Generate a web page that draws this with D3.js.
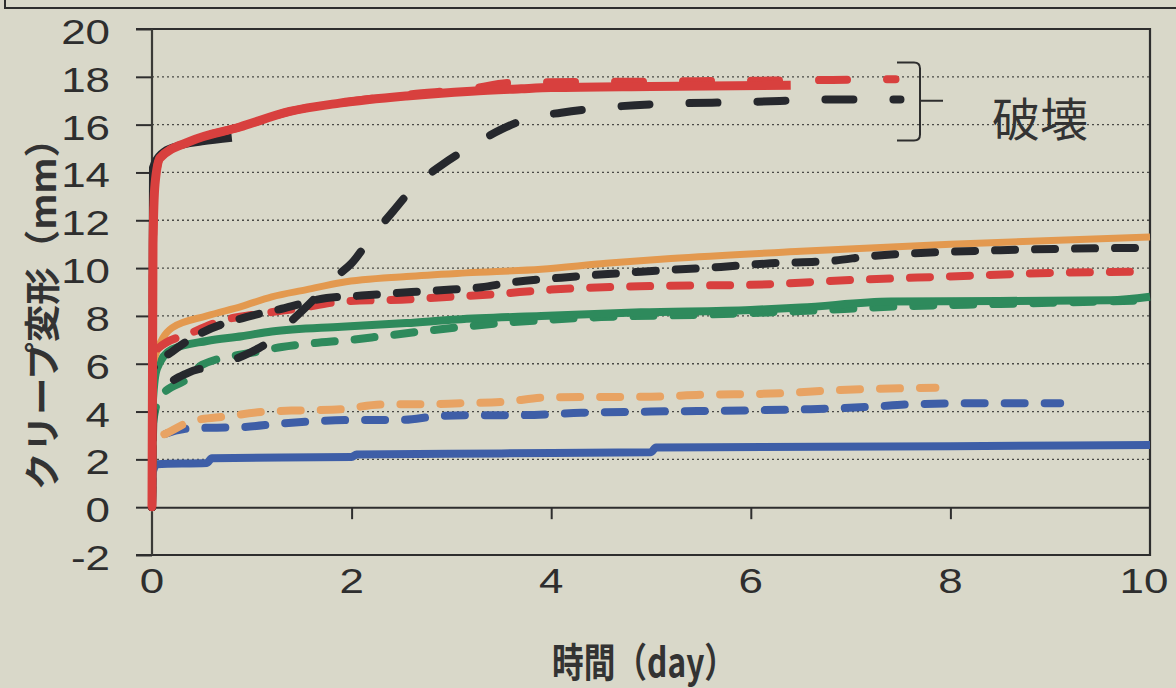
<!DOCTYPE html>
<html><head><meta charset="utf-8">
<script src="https://cdn.jsdelivr.net/npm/d3@7"></script>
<style>
html,body{margin:0;padding:0;background:#d9d8c9;}
svg{display:block;}
</style></head>
<body><svg id="c" width="1176" height="688"></svg>
<script>
// ---- data (time in days, creep deformation in mm) ----
const xTicks = [0, 2, 4, 6, 8, 10];
const yTicks = [-2, 0, 2, 4, 6, 8, 10, 12, 14, 16, 18, 20];
const xTitle = "時間（day）";
const yTitle = "クリープ変形（mm）";
const noteText = "破壊";

const blueSolid = [[0,0],[0.01,1.5],[0.05,1.8],[0.55,1.85],[0.6,2.05],[2.0,2.1],[2.05,2.2],[3.5,2.25],[5.0,2.3],[5.05,2.5],[8,2.55],[10,2.6]];
const blueDashed = [[0,0],[0.01,2.6],[0.1,3.0],[0.4,3.3],[0.9,3.35],[1.3,3.5],[1.65,3.6],[2.1,3.65],[2.5,3.65],[2.85,3.8],[3.2,3.85],[3.7,3.85],[4.3,3.95],[5.0,4.0],[6.0,4.05],[6.6,4.1],[7.2,4.2],[7.6,4.3],[8.3,4.35],[9.1,4.35]];
const orangeDashed = [[0,0],[0.01,2.8],[0.15,3.1],[0.4,3.6],[0.75,3.8],[1.15,4.0],[1.5,4.05],[1.9,4.1],[2.3,4.3],[2.7,4.3],[3.1,4.35],[3.5,4.4],[4.0,4.6],[5.0,4.62],[5.5,4.7],[6.2,4.75],[6.9,4.9],[7.85,5.0]];
const greenDashed = [[0,0],[0.01,3.5],[0.08,4.6],[0.38,5.45],[0.5,5.95],[1.05,6.5],[1.3,6.7],[1.6,6.85],[2.0,7.0],[2.3,7.15],[2.8,7.4],[3.5,7.7],[4.5,7.95],[5.5,8.05],[6.5,8.2],[7.5,8.4],[8.5,8.5],[9.0,8.55],[10,8.65]];
const greenSolid = [[0,0],[0.01,4.5],[0.05,5.8],[0.2,6.6],[0.55,6.95],[0.9,7.15],[1.2,7.35],[1.9,7.55],[2.55,7.7],[3.05,7.85],[3.9,8.0],[4.9,8.15],[6.0,8.25],[6.5,8.35],[7.4,8.6],[9.6,8.65],[10,8.8]];
const orangeSolid = [[0,0],[0.01,6.0],[0.2,7.5],[0.55,8.0],[0.9,8.4],[1.2,8.8],[1.55,9.1],[1.9,9.4],[2.55,9.65],[3.15,9.8],[3.9,9.95],[4.55,10.2],[5.2,10.4],[6.5,10.7],[8.0,11.0],[10,11.3]];
const redDashedMid = [[0,0],[0.01,5.8],[0.05,6.6],[0.4,7.3],[0.7,7.8],[1.1,8.1],[1.45,8.3],[1.9,8.6],[2.6,8.7],[3.0,8.8],[3.4,8.9],[4.0,9.1],[5.0,9.25],[6.0,9.3],[7.0,9.5],[8.0,9.65],[9.0,9.8],[9.85,9.85]];
const blackDashedMid = [[0,0],[0.01,5.8],[0.2,6.5],[0.5,7.3],[0.9,7.9],[1.3,8.3],[1.75,8.75],[2.1,8.85],[2.6,9.0],[3.0,9.1],[3.3,9.2],[3.6,9.4],[4.1,9.6],[4.9,9.85],[5.7,10.05],[6.2,10.2],[6.8,10.3],[7.2,10.5],[7.8,10.65],[8.5,10.75],[10,10.85]];
const blackDashedRise = [[0,0],[0.02,4.5],[0.15,5.1],[0.35,5.6],[0.7,6.0],[1.0,6.5],[1.2,7.0],[1.4,7.8],[1.6,8.6],[1.8,9.5],[2.0,10.2],[2.2,11.3],[2.4,12.3],[2.65,13.5],[2.9,14.3],[3.2,15.1],[3.5,15.8],[3.8,16.3],[4.1,16.5],[4.5,16.7],[5.0,16.85],[6.0,16.95],[6.8,17.05],[7.5,17.05]];
const blackSolidShort = [[0,0],[0.01,14.2],[0.1,14.8],[0.25,15.1],[0.5,15.3],[0.8,15.45]];
const redDashedTop = [[0,0],[0.01,11],[0.03,13.5],[0.08,14.6],[0.38,15.3],[0.88,15.9],[1.38,16.55],[1.88,16.9],[2.55,17.25],[3.2,17.5],[3.6,17.75],[5.0,17.8],[6.4,17.85],[7.45,17.9]];
const redSolidTop = [[0,0],[0.01,11],[0.03,13.5],[0.08,14.6],[0.38,15.3],[0.88,15.9],[1.38,16.55],[1.88,16.9],[2.55,17.2],[3.2,17.4],[3.7,17.5],[4.0,17.55],[5.0,17.6],[6.4,17.65]];
const bracketRange = [15.0, 18.6, 17.0]; // bottom, top, middle (value units)

// ---- styles ----
const C = {red:"#d8403e", black:"#26282d", orange:"#e3994f", orangeD:"#e8a363", green:"#2e8a5c", blue:"#3e5ea7", ink:"#2e2e2e"};
const longDash = "28,40", shortDash = "20,20";
const series = [
  {d: blueSolid, c: C.blue, w: 8, dash: null},
  {d: blueDashed, c: C.blue, w: 8, dash: shortDash},
  {d: orangeDashed, c: C.orangeD, w: 8, dash: shortDash},
  {d: greenDashed, c: C.green, w: 8, dash: shortDash},
  {d: greenSolid, c: C.green, w: 8, dash: null},
  {d: orangeSolid, c: C.orange, w: 7, dash: null},
  {d: redDashedMid, c: C.red, w: 8, dash: shortDash},
  {d: blackDashedMid, c: C.black, w: 8, dash: shortDash},
  {d: blackDashedRise, c: C.black, w: 8, dash: longDash},
  {d: blackSolidShort, c: C.black, w: 8, dash: null},
  {d: redDashedTop, c: C.red, w: 8, dash: longDash},
  {d: redSolidTop, c: C.red, w: 9, dash: null}
];

const svg = d3.select("#c");
const L = 152, R = 1150, T = 29, B = 555;
const x = d3.scaleLinear().domain([0, 10]).range([L, R]);
const y = d3.scaleLinear().domain([-2, 20]).range([B, T]);

// top frame remnant
svg.append("path").attr("d", "M5,0 V8 H1176").attr("fill", "none").attr("stroke", C.ink).attr("stroke-width", 2);

// gridlines (dotted)
const grid = svg.append("g");
grid.selectAll("line").data(yTicks.filter(v => v > 0 && v < 20)).join("line")
  .attr("x1", L).attr("x2", R).attr("y1", d => y(d)).attr("y2", d => y(d))
  .attr("stroke", "#4a4a46").attr("stroke-width", 1.3).attr("stroke-dasharray", "2,3");

// y axis ticks (left) via d3 axis
const yAxis = svg.append("g").attr("transform", `translate(${L},0)`)
  .call(d3.axisLeft(y).tickValues(yTicks).tickSize(16).tickFormat(""));
yAxis.select(".domain").remove();
yAxis.selectAll("line").attr("stroke", C.ink).attr("stroke-width", 2);

// y tick labels
svg.append("g").selectAll("text").data(yTicks).join("text")
  .attr("transform", d => `translate(110,${y(d) + 15}) scale(1.22,1)`)
  .attr("text-anchor", "end").attr("font-family", "Liberation Sans, Arial, sans-serif")
  .attr("font-size", 36).attr("fill", C.ink).text(d => d);

// x tick labels
svg.append("g").selectAll("text").data(xTicks).join("text")
  .attr("transform", d => `translate(${x(d) - (d === 10 ? 6 : 0)},593) scale(1.22,1)`)
  .attr("text-anchor", "middle").attr("font-family", "Liberation Sans, Arial, sans-serif")
  .attr("font-size", 36).attr("fill", C.ink).text(d => d);

// zero line with ticks downward (x axis)
const xAxis = svg.append("g").attr("transform", `translate(0,${y(0)})`)
  .call(d3.axisBottom(x).tickValues(xTicks.filter(v => v > 0 && v < 10)).tickSize(12).tickFormat("").tickSizeOuter(0));
xAxis.select(".domain").attr("stroke", C.ink).attr("stroke-width", 2);
xAxis.selectAll("line").attr("stroke", C.ink).attr("stroke-width", 2);

// frame: top, right, bottom, left axis
svg.append("path").attr("d", `M${L - 16},${T} H${R} V${B} H${L - 16}`).attr("fill", "none").attr("stroke", C.ink).attr("stroke-width", 2.2);
svg.append("line").attr("x1", L).attr("x2", L).attr("y1", T).attr("y2", B).attr("stroke", "#3a3a36").attr("stroke-width", 2.2);

// series
const line = d3.line().x(d => x(d[0])).y(d => y(d[1])).curve(d3.curveMonotoneX);
svg.append("g").selectAll("path").data(series).join("path")
  .attr("d", s => line(s.d)).attr("fill", "none")
  .attr("stroke", s => s.c).attr("stroke-width", s => s.w)
  .attr("stroke-linecap", s => s.dash ? "round" : "butt").attr("stroke-linejoin", "round")
  .attr("stroke-dasharray", s => s.dash);

// bracket
const yb = y(bracketRange[0]) - 8, yt = y(bracketRange[1]), ym = y(bracketRange[2]);
svg.append("path")
  .attr("d", `M897,${yt} H914 Q920,${yt} 920,${yt + 6} V${yb - 6} Q920,${yb} 914,${yb} H897 M920,${ym} H943`)
  .attr("fill", "none").attr("stroke", C.ink).attr("stroke-width", 2);
svg.append("text").attr("x", 992).attr("y", 136)
  .attr("font-family", "Noto Sans CJK JP, sans-serif").attr("font-size", 46).attr("fill", "#333")
  .attr("textLength", 96).attr("lengthAdjust", "spacingAndGlyphs").text(noteText);

// axis titles
svg.append("text").attr("transform", "translate(56,305) rotate(-90)")
  .attr("text-anchor", "middle").attr("font-family", "Noto Sans CJK JP, sans-serif")
  .attr("font-weight", "bold").attr("font-size", 36).attr("fill", "#333")
  .attr("textLength", 370).attr("lengthAdjust", "spacingAndGlyphs").text(yTitle);
svg.append("text").attr("x", 644).attr("y", 677)
  .attr("text-anchor", "middle").attr("font-family", "Noto Sans CJK JP, sans-serif")
  .attr("font-weight", "bold").attr("font-size", 40).attr("fill", "#333")
  .attr("textLength", 184).attr("lengthAdjust", "spacingAndGlyphs").text(xTitle);
</script></body></html>
